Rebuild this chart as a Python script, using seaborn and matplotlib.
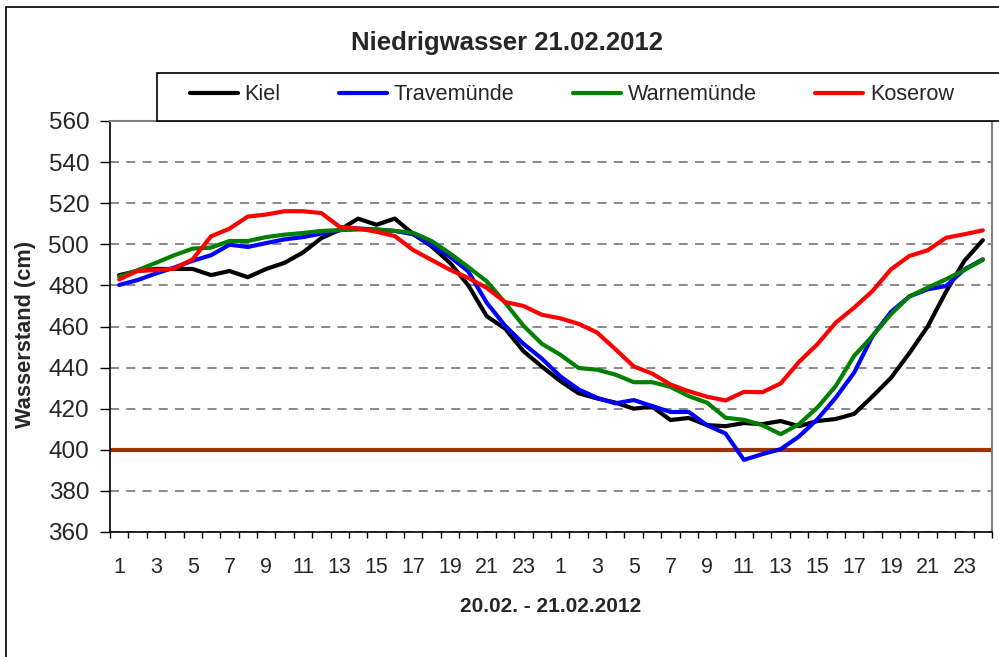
import numpy as np
import pandas as pd
import matplotlib
matplotlib.use("Agg")
import matplotlib.pyplot as plt
from matplotlib.patches import Rectangle
from matplotlib.ticker import FixedLocator, NullFormatter
import seaborn as sns

# ---------------- data ----------------
hours = list(range(1, 25)) + list(range(1, 25))
stations = ["Kiel", "Travemünde", "Warnemünde", "Koserow"]
kiel = [485, 487, 488, 488, 488, 485, 487, 484, 488, 491, 496, 503,
        507, 512.5, 509.5, 512.5, 505, 499, 491, 480, 465, 459, 448, 440.5,
        433.5, 427.5, 425, 423, 420, 421, 414.5, 415.5, 412, 411.5, 413, 412.5,
        414, 411.5, 414, 415, 417.5, 426, 435, 447, 460, 477, 492, 502]
travemuende = [480.2, 482.6, 485.8, 488.7, 492, 494.7, 499.8, 498.7, 500.6, 502.4, 503.5, 505.2,
               506.9, 507.7, 507.2, 506.5, 504.9, 499.6, 494, 486.8, 471.6, 460.4, 451.6, 444.4,
               435.8, 429.4, 425.3, 422.6, 424.2, 421.3, 418.4, 418.4, 411.9, 407.9, 395.1, 397.9,
               400.3, 406.5, 414.9, 425.4, 437.6, 455.4, 467.1, 474.6, 478.1, 479.7, 487.8, 492.7]
warnemuende = [484.2, 487.4, 491, 494.7, 497.9, 498.4, 501.6, 501.6, 503.5, 504.7, 505.5, 506.5,
               506.9, 507.2, 507.2, 506.5, 505.6, 501.6, 495.6, 488.9, 482, 471.6, 460.4, 451.6,
               446.3, 439.8, 439, 436.6, 432.9, 432.9, 430.6, 426.1, 422.9, 415.6, 414.6, 412,
               407.6, 412.5, 420.6, 431.1, 445.7, 455.4, 466, 474.6, 478.9, 483, 487.5, 492.4]
koserow = [482.9, 487.1, 487.4, 488.2, 492.7, 503.9, 507.6, 513.5, 514.5, 516.1, 516.1, 515.2,
           508.5, 507.7, 506.1, 504, 497.2, 492.4, 487.6, 483.6, 478.8, 471.9, 470, 465.7,
           464, 461.3, 457.1, 449, 440.6, 437.1, 431.8, 428.5, 425.8, 424, 428.2, 428,
           432.3, 442.8, 451.4, 461.9, 469.2, 477.3, 487.8, 494.3, 497.1, 503.2, 504.9, 506.8]
threshold = 400
yticks = list(range(360, 561, 20))
title = "Niedrigwasser 21.02.2012"
xlabel = "20.02. - 21.02.2012"
ylabel = "Wasserstand (cm)"

colors = ["#000000", "#0000FF", "#008000", "#FF0000"]

pos = np.arange(len(hours))
df = pd.concat([
    pd.DataFrame({"pos": pos, "value": vals, "Station": name})
    for name, vals in zip(stations, [kiel, travemuende, warnemuende, koserow])
])

# ---------------- style ----------------
sns.set_style("white")
plt.rcParams["font.family"] = ["Liberation Sans", "DejaVu Sans"]

W, H = 999, 657
fig = plt.figure(figsize=(W / 100, H / 100), dpi=100)
L, R, T, B = 110, 992, 121, 532
ax = fig.add_axes([L / W, 1 - B / H, (R - L) / W, (B - T) / H])

ax.axhline(threshold, color="#993300", lw=3, zorder=1.5)
sns.lineplot(data=df, x="pos", y="value", hue="Station", palette=colors,
             hue_order=stations, lw=3, ax=ax, legend=True, zorder=3)
handles, labels = ax.get_legend_handles_labels()
ax.get_legend().remove()

ax.set_xlim(-0.5, len(hours) - 0.5)
ax.set_ylim(360, 560)
ax.set_yticks(yticks)
ax.set_yticklabels([str(v) for v in yticks])
ax.set_xticks(pos[::2])
ax.set_xticklabels([str(h) for h in hours[::2]])
ax.xaxis.set_minor_locator(FixedLocator(np.arange(-0.5, len(hours), 1.0)))
ax.xaxis.set_minor_formatter(NullFormatter())
ax.set_xlabel("")
ax.set_ylabel("")

ax.tick_params(axis="x", which="major", length=0, pad=18, labelsize=15.5)
ax.tick_params(axis="x", which="minor", length=4.5, width=1, color="#000000", direction="out", bottom=True)
ax.tick_params(axis="y", which="major", length=7, width=1, color="#000000", direction="out",
               pad=8, labelsize=17.5, left=True)

ax.yaxis.grid(True, linestyle=(0, (5, 4)), color="#808080", lw=1.3)
ax.xaxis.grid(False)
ax.set_axisbelow(True)

for s in ["left", "bottom"]:
    ax.spines[s].set_color("#000000")
    ax.spines[s].set_linewidth(1.2)
for s in ["top", "right"]:
    ax.spines[s].set_color("#808080")
    ax.spines[s].set_linewidth(1.5)

# outer chart border
fig.patches.append(Rectangle((6 / W, -0.05), 1.2, (1 - 7 / H) + 0.05, transform=fig.transFigure,
                             fill=False, edgecolor="#000000", lw=1.2, zorder=0))
# legend box
fig.patches.append(Rectangle((157 / W, 1 - T / H), 1.0, 48 / H, transform=fig.transFigure,
                             facecolor="white", edgecolor="#000000", lw=1.2, zorder=4))
leg = fig.legend(handles, labels, loc="center left", bbox_to_anchor=(190 / W, 1 - 95 / H),
                 ncol=4, frameon=False, fontsize=15.6, handlelength=2.2, handletextpad=0.32,
                 columnspacing=2.7, borderpad=0, borderaxespad=0)
leg.set_zorder(6)
for lh in leg.get_lines():
    lh.set_linewidth(3)

fig.text(507 / W, 1 - 43 / H, title, ha="center", va="center", fontsize=18.5, fontweight="bold")
fig.text(551 / W, 1 - 606 / H, xlabel, ha="center", va="center", fontsize=15, fontweight="bold")
fig.text(26 / W, 1 - 334 / H, ylabel, ha="center", va="center", rotation=90, fontsize=15.7,
         fontweight="bold")

fig.savefig("out.png", dpi=100)
